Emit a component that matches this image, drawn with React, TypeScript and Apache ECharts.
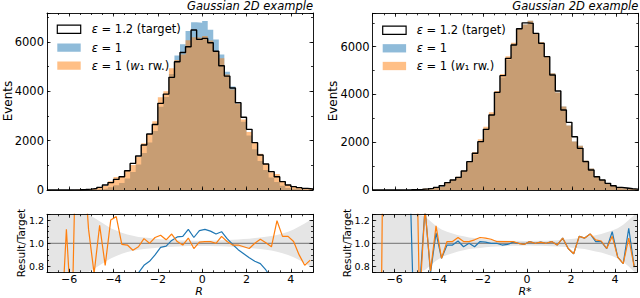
import React, { useEffect, useRef } from "react";
import * as echarts from "echarts";

// ---------------- data ----------------
const BIN_EDGES = [
  -7, -6.75, -6.5, -6.25, -6, -5.75, -5.5, -5.25, -5, -4.75, -4.5, -4.25, -4, -3.75, -3.5, -3.25,
  -3, -2.75, -2.5, -2.25, -2, -1.75, -1.5, -1.25, -1, -0.75, -0.5, -0.25, 0, 0.25, 0.5, 0.75, 1,
  1.25, 1.5, 1.75, 2, 2.25, 2.5, 2.75, 3, 3.25, 3.5, 3.75, 4, 4.25, 4.5, 4.75, 5,
];

// left panel (R)
const LEFT_TARGET = [
  0, 0, 1, 3, 5, 10, 20, 35, 60, 108,
  200, 300, 430, 540, 780, 1080, 1380, 1825, 2270, 2660,
  3515, 3890, 4570, 5200, 5580, 5810, 6490, 6110, 6150, 5976,
  5630, 5040, 4620, 4140, 3540, 2950, 2460, 1920, 1420, 1055,
  745, 540, 340, 200, 135, 95, 65, 40,
];
const LEFT_EPS1 = [
  0, 0, 0, 1, 2, 4, 7, 12, 20, 35,
  60, 115, 195, 280, 470, 735, 1035, 1500, 1930, 2390,
  3375, 3775, 4710, 5460, 5915, 6450, 6800, 6780, 6860, 6500,
  6100, 5500, 4800, 4200, 3480, 2770, 2210, 1650, 1180, 810,
  505, 325, 170, 85, 47, 28, 16, 8,
];
const LEFT_EPS1_RW = [
  0, 0, 0, 3, 1, 20, 30, 39, 44, 125,
  162, 360, 529, 535, 768, 1015, 1339, 1898, 2270, 2793,
  3760, 4007, 4936, 5278, 5496, 6071, 6198, 6171, 6242, 6066,
  5630, 5342, 4689, 4078, 3487, 2862, 2349, 1920, 1470, 1060,
  723, 645, 360, 212, 137, 86, 53, 34,
];
const LEFT_RATIO_EPS1 = [
  null, null, 0.2, 0.3, 0.35, 0.4, 0.35, 0.34, 0.33, 0.32,
  0.3, 0.38, 0.45, 0.52, 0.6, 0.68, 0.745, 0.81, 0.845, 0.9,
  0.965, 0.975, 1.025, 1.055, 1.06, 1.12, 1.05, 1.11, 1.12, 1.105,
  1.08, 1.1, 1.04, 0.99, 0.945, 0.91, 0.875, 0.845, 0.825, 0.77,
  0.7, 0.6, 0.5, 0.42, 0.35, 0.3, 0.25, 0.2,
];
const LEFT_RATIO_EPS1_RW = [
  null, null, 0.2, 1.12, 0.3, 2.5, 1.8, 1.12, 0.74, 1.155,
  0.81, 1.2, 1.23, 0.99, 0.985, 0.94, 0.97, 1.04, 1.0, 1.05,
  1.07, 1.03, 1.08, 1.015, 0.985, 1.045, 0.955, 1.01, 1.015, 1.015,
  1.0, 1.06, 1.015, 0.985, 0.985, 0.97, 0.955, 1.0, 1.035, 1.005,
  0.97, 1.195, 1.06, 1.06, 1.015, 0.9, 0.81, 0.855,
];
const LEFT_BAND = [
  0.6, 0.6, 0.6, 0.6, 0.6, 0.6, 0.6, 0.26, 0.22, 0.19,
  0.16, 0.13, 0.11, 0.09, 0.075, 0.065, 0.055, 0.05, 0.045, 0.04,
  0.035, 0.032, 0.03, 0.027, 0.025, 0.024, 0.023, 0.023, 0.023, 0.024,
  0.025, 0.026, 0.028, 0.03, 0.033, 0.036, 0.04, 0.045, 0.05, 0.056,
  0.063, 0.072, 0.085, 0.1, 0.12, 0.145, 0.17, 0.2,
];

// right panel (R*)
const RIGHT_TARGET = [
  0, 0, 1, 1, 2, 5, 9, 16, 28, 45,
  70, 112, 181, 307, 419, 530, 796, 1187, 1536, 2024,
  2540, 3141, 4090, 4788, 5514, 6073, 6750, 7000, 6980, 6561,
  6142, 5584, 4816, 4146, 3350, 2834, 2233, 1745, 1187, 837,
  558, 419, 279, 181, 112, 84, 55, 35,
];
const RIGHT_EPS1 = [
  0, 0, 0, 1, 1, 2, 6, 5, 17, 58,
  52, 122, 157, 302, 413, 541, 772, 1187, 1490, 2054,
  2565, 3141, 4090, 4716, 5459, 6134, 6750, 6930, 7085, 6561,
  6203, 5584, 4888, 4084, 3500, 2706, 2032, 1850, 1240, 904,
  566, 425, 266, 199, 99, 69, 62, 28,
];
const RIGHT_EPS1_RW = [
  0, 0, 1, 0, 1, 2, 5, 10, 14, 58,
  53, 129, 157, 312, 425, 557, 808, 1205, 1582, 2125,
  2652, 3251, 4151, 4860, 5597, 6164, 6750, 6930, 7085, 6561,
  6203, 5584, 4888, 4084, 3500, 2706, 2032, 1850, 1240, 904,
  575, 427, 266, 192, 99, 69, 57, 28,
];
const RIGHT_RATIO_EPS1 = [
  null, null, null, null, null, null, 2.0, 0.3, 0.6, 1.3,
  0.745, 1.09, 0.87, 0.985, 0.985, 1.02, 0.97, 1.0, 0.97, 1.015,
  1.01, 1.0, 1.0, 0.985, 0.99, 1.01, 1.0, 0.99, 1.015, 1.0,
  1.01, 1.0, 1.015, 0.985, 1.045, 0.955, 0.91, 1.06, 1.045, 1.08,
  1.015, 1.015, 0.955, 1.1, 0.88, 0.825, 1.13, 0.795,
];
const RIGHT_RATIO_EPS1_RW = [
  null, 0.1, 5.0, null, null, null, null, 3.0, 0.5, 1.3,
  0.76, 1.15, 0.87, 1.015, 1.015, 1.05, 1.015, 1.015, 1.03, 1.05,
  1.044, 1.035, 1.015, 1.015, 1.015, 1.015, 1.0, 0.99, 1.015, 1.0,
  1.01, 1.0, 1.015, 0.985, 1.045, 0.955, 0.91, 1.06, 1.045, 1.08,
  1.03, 1.02, 0.955, 1.06, 0.88, 0.825, 1.045, 0.795,
];
const RIGHT_BAND = [
  0.6, 0.6, 0.6, 0.6, 0.6, 0.6, 0.6, 0.6, 0.3, 0.23,
  0.19, 0.15, 0.12, 0.1, 0.085, 0.07, 0.06, 0.05, 0.045, 0.04,
  0.035, 0.03, 0.027, 0.025, 0.023, 0.022, 0.021, 0.02, 0.02, 0.021,
  0.022, 0.023, 0.025, 0.027, 0.03, 0.035, 0.04, 0.045, 0.05, 0.06,
  0.07, 0.08, 0.095, 0.11, 0.13, 0.16, 0.2, 0.26,
];

const X_MIN = -7;
const X_MAX = 5;
const LEFT_Y_MAX = 7180;
const RIGHT_Y_MAX = 7400;
const RATIO_MIN = 0.75;
const RATIO_MAX = 1.25;

const TITLE = "Gaussian 2D example";
const Y_TITLE_TOP = "Events";
const Y_TITLE_RATIO = "Result/Target";

// ---------------- styling / layout ----------------
const FONT = "DejaVu Sans";
const BLUE = "#1f77b4";
const ORANGE = "#ff7f0e";
const GRIDS = [
  { left: 47, top: 13, width: 266, height: 177 },
  { left: 47, top: 214.3, width: 266, height: 58 },
  { left: 372.7, top: 13.3, width: 265.6, height: 176.7 },
  { left: 372.7, top: 214.3, width: 265.6, height: 58 },
];

const CENTERS = BIN_EDGES.slice(0, -1).map((e, i) => (e + BIN_EDGES[i + 1]) / 2);

function stepData(vals: number[], closed: boolean) {
  const n = vals.length;
  const pts: number[][] = BIN_EDGES.map((e, i) => [e, vals[Math.min(i, n - 1)]]);
  if (closed) return [[BIN_EDGES[0], 0], ...pts, [BIN_EDGES[n], 0]];
  return pts;
}

function ratioData(vals: (number | null)[]) {
  return CENTERS.map((c, i) => [c, vals[i] === null ? "-" : vals[i]]);
}

const tickLine = { color: "#000", width: 0.8 };

function xAxes(gi: number, labels: boolean) {
  const fmt = (v: number) => {
    if (v <= X_MIN + 1e-9 || v >= X_MAX - 1e-9) return "";
    if (Math.abs(v / 2 - Math.round(v / 2)) > 1e-6) return "";
    return String(v).replace("-", "\u2212");
  };
  const base = { type: "value", gridIndex: gi, min: X_MIN, max: X_MAX, splitLine: { show: false }, z: 10 };
  const major = (pos: string, lab: boolean) => ({
    ...base,
    position: pos,
    splitNumber: 6,
    axisLine: { show: true, onZero: false, lineStyle: { color: "#000", width: 0.9 } },
    axisTick: { show: true, inside: true, length: 3.5, lineStyle: tickLine },
    axisLabel: { show: lab, formatter: fmt, fontFamily: FONT, fontSize: 11, color: "#000", margin: 1.5 },
  });
  const minor = (pos: string) => ({
    ...base,
    position: pos,
    interval: 0.5,
    axisLine: { show: false, onZero: false },
    axisTick: { show: true, inside: true, length: 2, lineStyle: tickLine },
    axisLabel: { show: false },
  });
  return [major("bottom", labels), major("top", false), minor("bottom"), minor("top")];
}

function yAxes(gi: number, ratio: boolean, ymax: number) {
  const min = ratio ? RATIO_MIN : 0;
  const max = ratio ? RATIO_MAX : ymax;
  const fmt = ratio
    ? (v: number) => (Math.abs(v * 5 - Math.round(v * 5)) < 1e-6 && v > min + 1e-6 && v < max - 1e-6 ? v.toFixed(1) : "")
    : (v: number) => (v % 2000 === 0 ? String(v) : "");
  const base = { type: "value", gridIndex: gi, min, max, splitLine: { show: false }, z: 10 };
  const major = (pos: string, lab: boolean) => ({
    ...base,
    position: pos,
    ...(ratio ? { splitNumber: 3 } : { interval: 2000 }),
    axisLine: { show: true, onZero: false, lineStyle: { color: "#000", width: 0.9 } },
    axisTick: { show: true, inside: true, length: 3.5, lineStyle: tickLine },
    axisLabel: {
      show: lab,
      formatter: fmt,
      fontFamily: FONT,
      fontSize: ratio ? 9.5 : 11.5,
      color: "#000",
      margin: 3,
    },
  });
  const minor = (pos: string) => ({
    ...base,
    position: pos,
    interval: ratio ? 0.05 : 1000,
    axisLine: { show: false, onZero: false },
    axisTick: { show: true, inside: true, length: 2, lineStyle: tickLine },
    axisLabel: { show: false },
  });
  return [major("left", true), major("right", false), minor("left"), minor("right")];
}

function histSeries(ai: number, target: number[], eps1: number[], rw: number[]) {
  return [
    {
      type: "line",
      xAxisIndex: ai,
      yAxisIndex: ai,
      step: "end",
      data: stepData(eps1, false),
      symbol: "none",
      lineStyle: { width: 0, opacity: 0 },
      areaStyle: { color: BLUE, opacity: 0.5 },
      z: 2,
      silent: true,
    },
    {
      type: "line",
      xAxisIndex: ai,
      yAxisIndex: ai,
      step: "end",
      data: stepData(rw, false),
      symbol: "none",
      lineStyle: { width: 0, opacity: 0 },
      areaStyle: { color: ORANGE, opacity: 0.5 },
      z: 3,
      silent: true,
    },
    {
      type: "line",
      xAxisIndex: ai,
      yAxisIndex: ai,
      step: "end",
      data: stepData(target, true),
      symbol: "none",
      lineStyle: { width: 1.4, color: "#000" },
      z: 4,
      silent: true,
    },
  ];
}

function ratioSeries(ai: number, band: number[], r1: (number | null)[], rrw: (number | null)[]) {
  const xs = [BIN_EDGES[0], ...CENTERS, BIN_EDGES[BIN_EDGES.length - 1]];
  const hw = [band[0], ...band, band[band.length - 1]];
  return [
    {
      type: "custom",
      xAxisIndex: ai,
      yAxisIndex: ai,
      data: [[0, 1]],
      silent: true,
      z: 1,
      renderItem: (params: any, api: any) => {
        const cs = params.coordSys;
        const top = cs.y + 0.6;
        const bot = cs.y + cs.height - 0.6;
        const cl = (y: number) => Math.max(top, Math.min(bot, y));
        const pts: number[][] = [];
        xs.forEach((x, i) => {
          const p = api.coord([x, 1 + hw[i]]);
          pts.push([p[0], cl(p[1])]);
        });
        for (let i = xs.length - 1; i >= 0; i--) {
          const p = api.coord([xs[i], 1 - hw[i]]);
          pts.push([p[0], cl(p[1])]);
        }
        return { type: "polygon", shape: { points: pts }, style: { fill: "#e5e5e5" } };
      },
    },
    {
      type: "line",
      xAxisIndex: ai,
      yAxisIndex: ai,
      data: [
        [X_MIN, 1],
        [X_MAX, 1],
      ],
      symbol: "none",
      lineStyle: { width: 1.2, color: "#888888" },
      z: 2,
      silent: true,
    },
    {
      type: "line",
      xAxisIndex: ai,
      yAxisIndex: ai,
      data: ratioData(r1),
      symbol: "none",
      connectNulls: false,
      lineStyle: { width: 1.2, color: BLUE },
      z: 3,
      silent: true,
    },
    {
      type: "line",
      xAxisIndex: ai,
      yAxisIndex: ai,
      data: ratioData(rrw),
      symbol: "none",
      connectNulls: false,
      lineStyle: { width: 1.2, color: ORANGE },
      z: 4,
      silent: true,
    },
  ];
}

function legendGraphics(px: number, tx: number, rows: number[]) {
  const pw = 23.4;
  const ph = 8.3;
  const txt = (y: number, text: string) => ({
    type: "text",
    x: tx,
    y,
    z: 50,
    style: {
      text,
      fontFamily: FONT,
      fontSize: 11.5,
      fill: "#000",
      align: "left",
      verticalAlign: "middle",
      rich: {
        i: { fontStyle: "italic", fontFamily: FONT, fontSize: 11.5, fill: "#000" },
      },
    },
  });
  return [
    { type: "rect", z: 50, shape: { x: px, y: rows[0] - ph / 2, width: pw, height: ph }, style: { fill: "#fff", stroke: "#000", lineWidth: 1.2 } },
    txt(rows[0], "{i|\u03b5} = 1.2 (target)"),
    { type: "rect", z: 50, shape: { x: px, y: rows[1] - ph / 2, width: pw, height: ph }, style: { fill: "rgba(31,119,180,0.5)" } },
    txt(rows[1], "{i|\u03b5} = 1"),
    { type: "rect", z: 50, shape: { x: px, y: rows[2] - ph / 2, width: pw, height: ph }, style: { fill: "rgba(255,127,14,0.5)" } },
    txt(rows[2], "{i|\u03b5} = 1 ({i|w}\u2081 rw.)"),
  ];
}

function label(x: number, y: number, text: string, size: number, rot: number, italic = false, rich?: any) {
  return {
    type: "text",
    x,
    y,
    rotation: rot,
    z: 50,
    style: {
      text,
      fontFamily: FONT,
      fontSize: size,
      fontStyle: italic ? "italic" : "normal",
      fill: "#000",
      align: "center",
      verticalAlign: "middle",
      rich,
    },
  };
}

export default function App() {
  const ref = useRef<HTMLDivElement>(null);
  useEffect(() => {
    if (!ref.current) return;
    const chart = echarts.init(ref.current, undefined, { renderer: "svg" });
    const option: any = {
      animation: false,
      backgroundColor: "#fff",
      grid: GRIDS.map((g) => ({ ...g, containLabel: false })),
      xAxis: [...xAxes(0, false), ...xAxes(1, true), ...xAxes(2, false), ...xAxes(3, true)],
      yAxis: [
        ...yAxes(0, false, LEFT_Y_MAX),
        ...yAxes(1, true, 0),
        ...yAxes(2, false, RIGHT_Y_MAX),
        ...yAxes(3, true, 0),
      ],
      series: [
        ...histSeries(0, LEFT_TARGET, LEFT_EPS1, LEFT_EPS1_RW),
        ...ratioSeries(4, LEFT_BAND, LEFT_RATIO_EPS1, LEFT_RATIO_EPS1_RW),
        ...histSeries(8, RIGHT_TARGET, RIGHT_EPS1, RIGHT_EPS1_RW),
        ...ratioSeries(12, RIGHT_BAND, RIGHT_RATIO_EPS1, RIGHT_RATIO_EPS1_RW),
      ],
      graphic: [
        {
          type: "text",
          x: 313,
          y: 6,
          z: 50,
          style: { text: TITLE, fontFamily: FONT, fontSize: 11.5, fontStyle: "italic", fill: "#000", align: "right", verticalAlign: "middle" },
        },
        {
          type: "text",
          x: 638.3,
          y: 6,
          z: 50,
          style: { text: TITLE, fontFamily: FONT, fontSize: 11.5, fontStyle: "italic", fill: "#000", align: "right", verticalAlign: "middle" },
        },
        ...legendGraphics(57.3, 91.7, [29.3, 47.7, 65.7]),
        ...legendGraphics(382.7, 416.7, [30.3, 48.3, 66]),
        label(8, 101, Y_TITLE_TOP, 12, Math.PI / 2),
        label(333, 101, Y_TITLE_TOP, 12, Math.PI / 2),
        label(21, 243, Y_TITLE_RATIO, 10.5, Math.PI / 2),
        label(347, 243, Y_TITLE_RATIO, 10.5, Math.PI / 2),
        label(199, 291.4, "R", 11, 0, true),
        label(525, 291.4, "{i|R}*", 11, 0, false, {
          i: { fontStyle: "italic", fontFamily: FONT, fontSize: 11, fill: "#000" },
        }),
      ],
    };
    chart.setOption(option);
    return () => chart.dispose();
  }, []);
  return <div ref={ref} style={{ position: "fixed", left: 0, top: 0, width: 640, height: 298 }} />;
}
